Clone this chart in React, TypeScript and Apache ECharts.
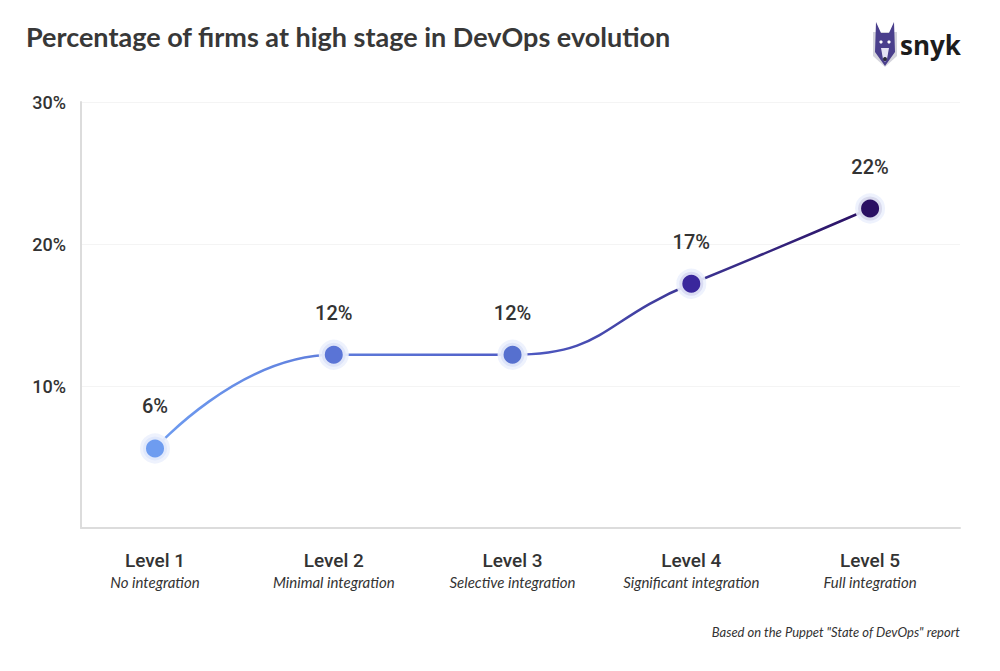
import React, { useEffect, useRef } from "react";
import * as echarts from "echarts";

const levels = ["Level 1", "Level 2", "Level 3", "Level 4", "Level 5"];
const subtitles = ["No integration", "Minimal integration", "Selective integration", "Significant integration", "Full integration"];
const positions = [1, 2, 3, 4, 5];
const values = [5.6, 12.2, 12.2, 17.2, 22.5];
const valueLabels = ["6%", "12%", "12%", "17%", "22%"];
const pointColors = ["#6e9cf0", "#5a74d6", "#5670cf", "#3a279c", "#2a0f62"];
const yTicks = [0, 10, 20, 30];

export default function App() {
  const ref = useRef<HTMLDivElement>(null);
  useEffect(() => {
    if (!ref.current) return;
    const chart = echarts.init(ref.current, undefined, { renderer: "svg" });
    chart.setOption({
      animation: false,
      backgroundColor: "#ffffff",
      title: {
        text: "Percentage of firms at high stage in DevOps evolution",
        left: 21,
        top: 18,
        textStyle: { fontFamily: "Lato", fontSize: 27, fontWeight: "bold", color: "#383838" },
      },
      grid: { left: 81, right: 40, top: 102, bottom: 143 },
      xAxis: {
        type: "value",
        min: 0.586,
        max: 5.503,
        axisLine: { show: true, lineStyle: { color: "#dcdcdc", width: 2 } },
        axisTick: { show: false },
        splitLine: { show: false },
        axisLabel: {
          customValues: positions,
          margin: 21,
          formatter: (v: number) => {
            const i = Math.round(v) - 1;
            return `{a|${levels[i]}}\n{b|${subtitles[i]}}`;
          },
          rich: {
            a: { fontFamily: "Roboto", fontSize: 19, fontWeight: 500, color: "#333", lineHeight: 23 },
            b: { fontFamily: "Lato", fontStyle: "italic", fontSize: 15, color: "#333", lineHeight: 19 },
          },
        },
      },
      yAxis: {
        type: "value",
        min: yTicks[0],
        max: yTicks[yTicks.length - 1],
        interval: 10,
        axisLine: { show: true, lineStyle: { color: "#dcdcdc", width: 2 } },
        axisTick: { show: false },
        splitLine: { show: true, lineStyle: { color: "#f4f4f4", width: 1 } },
        axisLabel: {
          margin: 15,
          fontFamily: "Roboto",
          fontSize: 18,
          fontWeight: 500,
          color: "#333",
          formatter: (v: number) => (v === 0 ? "" : `${v}%`),
        },
      },
      series: [
        {
          type: "line",
          smooth: 0.5,
          data: positions.map((p, i) => ({
            value: [p, values[i]],
            itemStyle: { color: pointColors[i] },
          })),
          symbol: "circle",
          symbolSize: 24,
          itemStyle: { borderColor: "rgba(236,241,253,0.9)", borderWidth: 6 },
          lineStyle: {
            width: 2.5,
            color: new echarts.graphic.LinearGradient(0, 0, 1, 0, [
              { offset: 0, color: "#6e9cf0" },
              { offset: 0.5, color: "#4f5cc6" },
              { offset: 1, color: "#2a0f62" },
            ]),
          },
          label: {
            show: true,
            position: "top",
            distance: 17,
            formatter: (p: any) => valueLabels[p.dataIndex],
            fontFamily: "Roboto",
            fontSize: 20,
            fontWeight: 500,
            color: "#333",
          },
        },
      ],
      graphic: [
        {
          type: "text",
          right: 40,
          top: 625,
          style: {
            text: 'Based on the Puppet "State of DevOps" report',
            fontFamily: "Lato",
            fontStyle: "italic",
            fontSize: 13,
            fill: "#333",
          },
        },
        {
          type: "group",
          x: 873,
          y: 22,
          children: [
            { type: "polygon", shape: { points: [[0, 10], [24, 10], [24, 34], [12, 45], [0, 34]] }, style: { fill: "#d4d4dc" } },
            { type: "polygon", shape: { points: [[3, 0], [8, 11], [16, 11], [21, 0], [22, 30], [12, 44], [2, 30]] }, style: { fill: "#4a3f8c" } },
            { type: "polygon", shape: { points: [[8, 26], [16, 26], [14, 37], [12, 40], [10, 37]] }, style: { fill: "#e4e2f2" } },
            { type: "circle", shape: { cx: 8, cy: 20, r: 1.6 }, style: { fill: "#ffffff" } },
            { type: "circle", shape: { cx: 16, cy: 20, r: 1.6 }, style: { fill: "#ffffff" } },
            { type: "circle", shape: { cx: 12, cy: 37, r: 2 }, style: { fill: "#2a2a3a" } },
          ],
        },
        {
          type: "text",
          x: 900,
          y: 45,
          style: {
            text: "snyk",
            fontFamily: "Open Sans",
            fontWeight: "bold",
            fontSize: 26,
            fill: "#1c1c1c",
            verticalAlign: "middle",
          },
        },
      ],
    });
    return () => chart.dispose();
  }, []);
  return <div ref={ref} style={{ width: 1000, height: 671, position: "absolute", left: 0, top: 0 }} />;
}
